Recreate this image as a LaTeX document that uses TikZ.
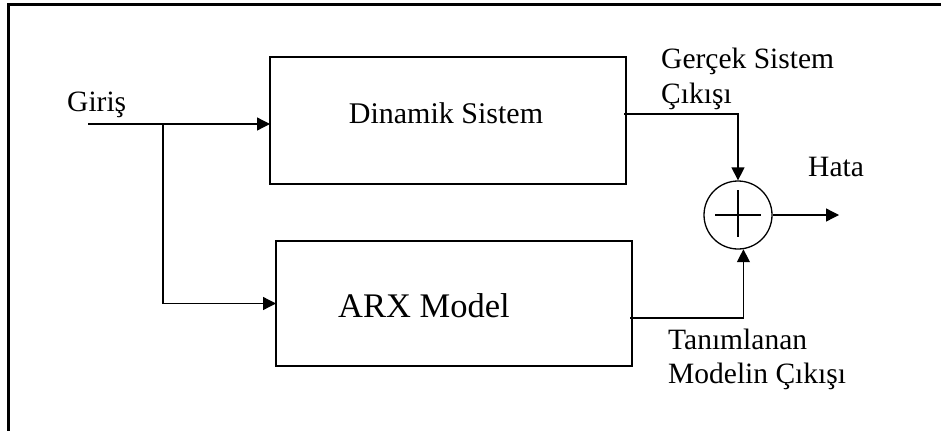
\documentclass[tikz,border=0pt]{standalone}
\usepackage{fontspec}
\setmainfont{Liberation Serif}
\usetikzlibrary{arrows.meta,calc}
\begin{document}
\begin{tikzpicture}[x=1pt,y=-1pt,
  blk/.style={draw,line width=1.3pt,minimum width=356pt,inner sep=0pt,outer sep=0pt},
  lbl/.style={anchor=base west,inner sep=0pt,font=\fontsize{29.5}{35}\selectfont},
  ln/.style={line width=1.3pt},
  arr/.style={ln,-{Triangle[length=13pt,width=13pt]}},
  frm/.style={line width=2.4pt}]
\useasboundingbox (0,0) rectangle (941,431);
% frame
\draw[frm] (7,4.5) -- (941,4.5);
\draw[frm] (8.5,4.5) -- (8.5,431);
% blocks
\node[blk,minimum height=127pt] (sys) at (448,120.5) {};
\node[blk,minimum height=125pt] (arx) at (454,303.5) {};
\node[draw,circle,line width=1.3pt,minimum size=68pt,inner sep=0pt] (sum) at (738,215) {};
\draw[ln] ($(sum.center)+(-23,0)$) -- ($(sum.center)+(23,0)$);
\draw[ln] ($(sum.center)+(0,-25)$) -- ($(sum.center)+(0,22)$);
% texts
\node[anchor=base,inner sep=0pt,font=\fontsize{30}{35}\selectfont] (tsys) at (446,123) {Dinamik Sistem};
\node[anchor=base west,inner sep=0pt,font=\fontsize{34.5}{40}\selectfont] (tarx) at (338,317) {ARX Model};
\node[lbl] (tin) at (67,111) {Giriş};
\node[lbl] (tg1) at (661,68) {Gerçek Sistem};
\node[lbl] (tg2) at (661,103) {Çıkışı};
\node[lbl] (th) at (808,176) {Hata};
\node[lbl] (tt1) at (668,349) {Tanımlanan};
\node[lbl] (tt2) at (668,383) {Modelin Çıkışı};
% connectors
\coordinate (inp) at (88,124);
\coordinate (br) at (163,124);
\coordinate (so) at (624,114);
\coordinate (mo) at (630,318);
\coordinate (out) at (839,215);
\draw[arr] (inp) -- (inp -| sys.west);
\draw[arr] (br) |- (arx.west);
\draw[arr] (so) -| (sum.north);
\draw[arr] (mo) -| (sum.-81);
\draw[arr] (sum.east) -- (out);
\end{tikzpicture}
\end{document}
